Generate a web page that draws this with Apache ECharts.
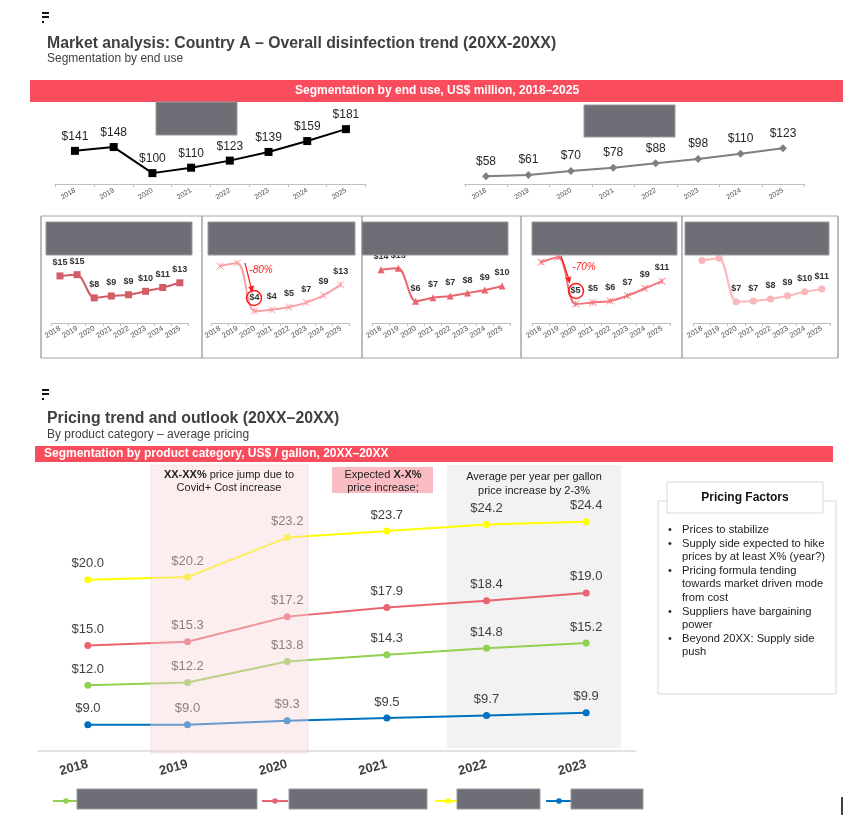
<!DOCTYPE html>
<html>
<head>
<meta charset="utf-8">
<script src="https://cdn.jsdelivr.net/npm/echarts@6/dist/echarts.min.js"></script>
<style>
html,body{margin:0;padding:0;background:#fff;}
#chart{width:843px;height:829px;}
</style>
</head>
<body>
<div id="chart"></div>
<script>
// ---------- data ----------
const years8 = ['2018','2019','2020','2021','2022','2023','2024','2025'];
const overallMarket = [141,148,100,110,123,139,159,181];
const secondMarket = [58,61,70,78,88,98,110,123];
const endUse1 = [15.0,15.4,8.0,8.6,9.0,10.1,11.3,12.8];
const endUse2 = [19.0,20.0,4.0,4.4,5.3,6.8,9.2,12.8];
const endUse3 = [14.4,14.8,5.9,6.8,7.3,8.1,8.9,10.0];
const endUse4 = [16.0,17.3,5.0,5.4,5.8,7.2,9.1,11.0];
const endUse5 = [20.5,21.2,7.0,7.2,7.9,8.9,10.2,11.1];
const years6 = ['2018','2019','2020','2021','2022','2023'];
const priceGreen = [12.0,12.2,13.8,14.3,14.8,15.2];
const priceRed = [15.0,15.3,17.2,17.9,18.4,19.0];
const priceYellow = [20.0,20.2,23.2,23.7,24.2,24.4];
const priceBlue = [9.0,9.0,9.3,9.5,9.7,9.9];
const pricingFactors = [
  ['Prices to stabilize'],
  ['Supply side expected to hike','prices by at least X% (year?)'],
  ['Pricing formula tending','towards market driven mode','from cost'],
  ['Suppliers have bargaining','power'],
  ['Beyond 20XX: Supply side','push']
];

const FONT = '"Liberation Sans", Arial, sans-serif';
const chart = echarts.init(document.getElementById('chart'), null, {renderer:'canvas'});

// ---------- grids ----------
const grids = [
  {left:55.6, top:118.8, width:309.7, height:65.2},
  {left:464.8, top:123.7, width:339.4, height:60.3},
  {left:51.4, top:244.5, width:137, height:78.5},
  {left:211.4, top:248, width:138, height:75},
  {left:372.4, top:249, width:138.3, height:74},
  {left:532.4, top:247, width:138.3, height:76},
  {left:693.4, top:246.7, width:137, height:76.3},
  {left:38, top:448, width:598, height:303}
].map(g => Object.assign({containLabel:false, outerBoundsMode:'none'}, g));

const yRanges = [[80,200],[40,180],[0,25],[0,25],[0,20],[0,20],[0,25],[7,30]];

function smallX(i, cats, fs, rot, margin){
  return {
    type:'category', gridIndex:i, data:cats, boundaryGap:true,
    axisLine:{show:true, lineStyle:{color:'#bfbfbf', width:1}},
    axisTick:{show:true, length:3, lineStyle:{color:'#bfbfbf'}},
    axisLabel:{rotate:rot, fontSize:fs, color:'#505050', margin:margin, fontFamily:FONT, interval:0},
    splitLine:{show:false}
  };
}
const xAxes = [];
for (let i=0;i<7;i++) xAxes.push(smallX(i, years8, i<2?7:7.5, 30, i<2?6:5));
xAxes.push({
  type:'category', gridIndex:7, data:years6, boundaryGap:true,
  axisLine:{show:true, lineStyle:{color:'#d9d9d9', width:1.5}},
  axisTick:{show:false},
  axisLabel:{rotate:15, fontSize:13, fontWeight:'bold', color:'#404040', margin:13, fontFamily:FONT, interval:0},
  splitLine:{show:false}
});
const yAxes = yRanges.map((r,i)=>({type:'value', gridIndex:i, min:r[0], max:r[1], show:false, splitLine:{show:false}}));

function dollar0(p){ return '$' + Math.round(p.value); }
function dollar1(p){ return '$' + p.value.toFixed(1); }

function lineSeries(idx, name, data, color, symbol, size, opts){
  opts = opts || {};
  return {
    type:'line', name:name, xAxisIndex:idx, yAxisIndex:idx, data:data,
    smooth: opts.smooth || false,
    symbol:symbol, symbolSize:size, showAllSymbol:true,
    lineStyle:{color:color, width:opts.lw||2},
    itemStyle: opts.itemStyle || {color:color},
    label:{show:true, position:'top', distance:opts.dist||5, formatter:opts.fmt||dollar0,
           fontSize:opts.fs||9, fontWeight:opts.fw||'bold', color:opts.lc||'#333', fontFamily:FONT},
    z:3
  };
}
const crossPath = 'path://M0,0L10,10M10,0L0,10M5,1L5,9';

const series = [
  lineSeries(0,'Overall market', overallMarket, '#000000','rect',8,{fs:12, fw:'normal', dist:4, lc:'#262626'}),
  lineSeries(1,'Segment 2', secondMarket, '#7f7f7f','diamond',8,{fs:12, fw:'normal', dist:5, lc:'#262626'}),
  lineSeries(2,'End use 1', endUse1, '#d25d67','rect',7,{smooth:0.3}),
  lineSeries(3,'End use 2', endUse2, '#f7a3a8', crossPath, 7,{smooth:0.35, itemStyle:{color:'#f7a3a8', borderColor:'#f7a3a8', borderWidth:1}}),
  lineSeries(4,'End use 3', endUse3, '#e8656e','triangle',7,{smooth:0.3}),
  lineSeries(5,'End use 4', endUse4, '#f2737b', crossPath, 7,{smooth:0.35, itemStyle:{color:'#f2737b', borderColor:'#f2737b', borderWidth:1}}),
  lineSeries(6,'End use 5', endUse5, '#f9b6bb','circle',7,{smooth:0.3}),
  lineSeries(7,'Category 1', priceGreen, '#92d050','circle',7,{fs:13, fw:'normal', dist:6, fmt:dollar1, lc:'#404040'}),
  lineSeries(7,'Category 2', priceRed, '#e9646e','circle',7,{fs:13, fw:'normal', dist:6, fmt:dollar1, lc:'#404040'}),
  lineSeries(7,'Category 3', priceYellow, '#ffff00','circle',7,{fs:13, fw:'normal', dist:6, fmt:dollar1, lc:'#404040'}),
  lineSeries(7,'Category 4', priceBlue, '#0070c0','circle',7,{fs:13, fw:'normal', dist:6, fmt:dollar1, lc:'#404040'})
];

// ---------- legends ----------
const legendPos = [[52,'Category 1'],[261,'Category 2'],[434,'Category 3'],[545,'Category 4']];
const legends = legendPos.map(lp => ({
  data:[lp[1]], left:lp[0], top:797, itemWidth:26, itemHeight:7, itemGap:4,
  textStyle:{fontSize:8, color:'#6e6e76', fontFamily:FONT}, selectedMode:false, padding:0
}));

// ---------- graphics ----------
const G = [];
function rect(x,y,w,h,fill,z,stroke,lw){ G.push({type:'rect', shape:{x:x,y:y,width:w,height:h}, style:{fill:fill, stroke:stroke||null, lineWidth:lw||0}, z:z||0, silent:true}); }
function text(x,y,t,font,fill,align,z,extra){ const s = Object.assign({x:x,y:y,text:t,font:font,fill:fill,textAlign:align||'left',textVerticalAlign:'middle'}, extra||{}); G.push({type:'text', style:s, z:z||50, silent:true}); }
function line(x1,y1,x2,y2,color,w,z){ G.push({type:'line', shape:{x1:x1,y1:y1,x2:x2,y2:y2}, style:{stroke:color, lineWidth:w||1}, z:z||50, silent:true}); }
function icon(x,y){ rect(x,y,7,2,'#111',60); rect(x,y+4,7,2,'#111',60); rect(x,y+9,2,2,'#111',60); }

// header top
icon(42,12);
text(47,44,'Market analysis: Country A \u2013 Overall disinfection trend (20XX-20XX)','bold 15.8px '+FONT,'#404040');
text(47,59,'Segmentation by end use','12px '+FONT,'#404040');
rect(30,80,813,22,'#f94c5c',40);
text(437,91,'Segmentation by end use, US$ million, 2018\u20132025','bold 12px '+FONT,'#ffffff','center',45);
// top grey name blocks
const GREY = '#6e6e76';
rect(156,102,81,33,GREY,100,'#9a9aa0',1);
rect(584,105,91,32,GREY,100,'#9a9aa0',1);
// small chart frames
const BC = '#a6a6a6';
line(41,216,838,216,BC,1.2,5);
line(41,358,838,358,BC,1.2,5);
[41,202,362,521,682,838].forEach(x=>line(x,216,x,358,BC,1.5,5));
[[46,222,146,33],[208,222,147,33],[362,222,146,33],[532,222,145,33],[685,222,144,33]].forEach(r=>rect(r[0],r[1],r[2],r[3],GREY,100,'#9a9aa0',1));
// annotations -80% and -70%
const RED = '#ff1a1a';
line(245,263,251,287,RED,1.2,60);
G.push({type:'polygon', shape:{points:[[252,293],[254.2,285.6],[248.4,287.0]]}, style:{fill:RED}, z:60, silent:true});
G.push({type:'circle', shape:{cx:254, cy:298, r:7.5}, style:{fill:null, stroke:RED, lineWidth:1.5}, z:60, silent:true});
text(261,270,'-80%','italic 10px '+FONT,RED,'center',60);
line(561,256,568.5,278,RED,1.2,60);
G.push({type:'polygon', shape:{points:[[570,283.5],[571,276.4],[565.3,278.2]]}, style:{fill:RED}, z:60, silent:true});
G.push({type:'circle', shape:{cx:576, cy:291, r:7.5}, style:{fill:null, stroke:RED, lineWidth:1.5}, z:60, silent:true});
text(584,267,'-70%','italic 10px '+FONT,RED,'center',60);

// header bottom
icon(42,389);
text(47,419,'Pricing trend and outlook (20XX\u201320XX)','bold 15.8px '+FONT,'#404040');
text(47,435,'By product category \u2013 average pricing','12px '+FONT,'#404040');
rect(35,446,798,16,'#f94c5c',40);
text(44,454,'Segmentation by product category, US$ / gallon, 20XX\u201320XX','bold 12px '+FONT,'#ffffff','left',45);
// shaded regions
rect(447,465,174,283,'#f2f2f2',-1);
rect(151,465,157,288,'rgba(248,212,216,0.42)',100,'rgba(235,200,205,0.4)',1);
text(229,475,'{b|XX-XX%} price jump due to','11px '+FONT,'#222','center',110,{rich:{b:{font:'bold 11px '+FONT, fill:'#222'}}});
text(229,488,'Covid+ Cost increase','11px '+FONT,'#222','center',110);
rect(332,467,101,26,'#f9bcc2',20);
text(383,475,'Expected {b|X-X%}','11px '+FONT,'#222','center',110,{rich:{b:{font:'bold 11px '+FONT, fill:'#222'}}});
text(383,488,'price increase;','11px '+FONT,'#222','center',110);
text(534,477,'Average per year per gallon','11px '+FONT,'#222','center',60);
text(534,491,'price increase by 2-3%','11px '+FONT,'#222','center',60);
// pricing factors box
rect(658,501,178,193,'#ffffff',20,'#d9d9d9',1);
rect(667,482,156,31,'#ffffff',22,'#d9d9d9',1);
text(745,498,'Pricing Factors','bold 12px '+FONT,'#111','center',30);
let ly = 530;
pricingFactors.forEach(item => {
  item.forEach((t,k) => {
    if (k===0) text(668,ly,'\u2022','11px '+FONT,'#222','left',30);
    text(682,ly,t,'11.2px '+FONT,'#222','left',30);
    ly += 13.6;
  });
});
// legend name blocks
[[77,789,180,20],[289,789,138,20],[457,789,83,20],[571,789,72,20]].forEach(r=>rect(r[0],r[1],r[2],r[3],GREY,100,'#9a9aa0',1));
line(842,797,842,815,'#000',1.5,60);

chart.setOption({
  animation:false,
  backgroundColor:'#ffffff',
  grid:grids,
  xAxis:xAxes,
  yAxis:yAxes,
  legend:legends,
  series:series,
  graphic:{elements:G}
});
</script>
</body>
</html>
